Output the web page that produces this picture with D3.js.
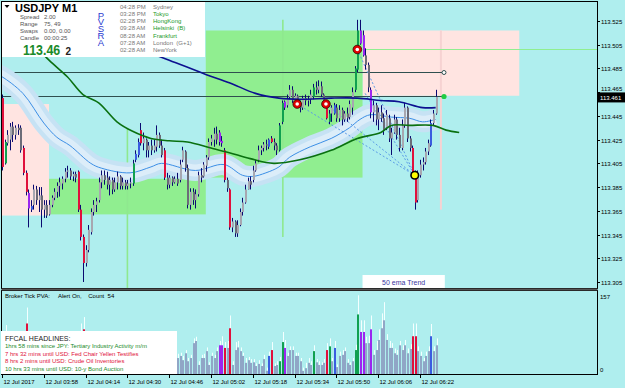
<!DOCTYPE html>
<html><head><meta charset="utf-8">
<script src="https://cdn.jsdelivr.net/npm/d3@7"></script>
<style>
body{margin:0;background:#afeeee;overflow:hidden}
svg{display:block;font-family:"Liberation Sans",Arial,sans-serif}
</style>
</head><body>
<svg id="chart" width="625" height="388"></svg>
<script>
// ---------------- DATA ----------------
const symbol = "USDJPY", timeframe = "M1";
// one M1 candle per minute starting 12 Jul 2017 03:42 ; [open, high, low, close]
const ohlc = [
[113.460,113.463,113.399,113.402],[113.405,113.425,113.404,113.423],[113.422,113.433,113.420,113.429],[113.425,113.439,113.416,113.436],
[113.436,113.440,113.423,113.429],[113.429,113.437,113.425,113.435],[113.435,113.438,113.429,113.433],[113.435,113.437,113.414,113.416],
[113.418,113.420,113.395,113.397],[113.397,113.399,113.378,113.381],[113.380,113.383,113.351,113.367],[113.366,113.374,113.364,113.369],
[113.370,113.387,113.366,113.383],[113.383,113.386,113.370,113.374],[113.374,113.385,113.364,113.378],[113.378,113.385,113.351,113.366],
[113.366,113.374,113.359,113.370],[113.370,113.374,113.359,113.361],[113.362,113.374,113.361,113.370],[113.370,113.378,113.368,113.376],
[113.376,113.384,113.374,113.381],[113.381,113.389,113.376,113.386],[113.386,113.393,113.377,113.389],[113.388,113.394,113.383,113.392],
[113.392,113.401,113.389,113.398],[113.398,113.403,113.393,113.399],[113.399,113.401,113.391,113.394],[113.394,113.398,113.390,113.396],
[113.396,113.398,113.389,113.393],[113.398,113.399,113.364,113.366],[113.366,113.370,113.340,113.343],[113.343,113.345,113.305,113.321],
[113.321,113.336,113.318,113.332],[113.332,113.353,113.330,113.349],[113.347,113.367,113.345,113.364],[113.364,113.374,113.361,113.370],
[113.370,113.376,113.364,113.373],[113.374,113.393,113.372,113.389],[113.389,113.399,113.384,113.395],[113.395,113.399,113.387,113.391],
[113.393,113.398,113.383,113.387],[113.387,113.394,113.378,113.391],[113.391,113.393,113.379,113.383],[113.383,113.393,113.381,113.389],
[113.389,113.398,113.383,113.394],[113.394,113.395,113.383,113.386],[113.386,113.393,113.383,113.389],[113.389,113.391,113.383,113.386],
[113.386,113.391,113.383,113.388],[113.388,113.393,113.384,113.389],[113.388,113.408,113.386,113.405],[113.408,113.416,113.406,113.413],
[113.412,113.426,113.410,113.423],[113.433,113.439,113.420,113.422],[113.422,113.431,113.416,113.426],[113.425,113.426,113.410,113.416],
[113.416,113.423,113.410,113.420],[113.420,113.425,113.412,113.416],[113.416,113.425,113.414,113.420],[113.419,113.437,113.415,113.429],
[113.429,113.431,113.418,113.420],[113.420,113.425,113.410,113.412],[113.416,113.418,113.391,113.393],[113.393,113.397,113.383,113.387],
[113.387,113.395,113.384,113.393],[113.393,113.394,113.386,113.389],[113.389,113.394,113.388,113.392],[113.392,113.397,113.386,113.388],
[113.391,113.408,113.389,113.404],[113.408,113.419,113.406,113.416],[113.415,113.416,113.398,113.401],[113.401,113.404,113.367,113.370],
[113.370,113.384,113.366,113.381],[113.381,113.384,113.370,113.374],[113.374,113.383,113.367,113.379],[113.379,113.398,113.377,113.395],
[113.395,113.401,113.389,113.393],[113.394,113.406,113.393,113.404],[113.403,113.412,113.398,113.410],[113.410,113.426,113.408,113.423],
[113.423,113.429,113.420,113.426],[113.425,113.435,113.419,113.430],[113.430,113.436,113.421,113.425],[113.431,113.433,113.420,113.423],
[113.424,113.428,113.419,113.422],[113.416,113.418,113.389,113.391],[113.391,113.393,113.381,113.384],[113.383,113.384,113.349,113.351],
[113.351,113.359,113.347,113.356],[113.356,113.357,113.343,113.346],[113.346,113.357,113.343,113.353],[113.353,113.367,113.352,113.364],
[113.364,113.376,113.361,113.372],[113.372,113.387,113.371,113.383],[113.383,113.393,113.383,113.390],[113.390,113.394,113.383,113.387],
[113.391,113.403,113.389,113.399],[113.399,113.408,113.398,113.405],[113.408,113.420,113.406,113.416],[113.416,113.420,113.412,113.418],
[113.418,113.423,113.415,113.421],[113.421,113.425,113.416,113.420],[113.419,113.426,113.417,113.425],[113.426,113.428,113.422,113.423],
[113.423,113.426,113.416,113.420],[113.420,113.422,113.412,113.416],[113.416,113.439,113.415,113.437],[113.440,113.458,113.438,113.456],
[113.457,113.458,113.450,113.452],[113.454,113.463,113.452,113.460],[113.461,113.471,113.459,113.467],[113.467,113.470,113.456,113.458],
[113.458,113.464,113.455,113.462],[113.462,113.463,113.453,113.456],[113.456,113.458,113.448,113.452],[113.452,113.462,113.450,113.460],
[113.460,113.463,113.454,113.458],[113.458,113.462,113.453,113.459],[113.459,113.467,113.455,113.463],[113.461,113.472,113.459,113.469],
[113.469,113.474,113.463,113.467],[113.467,113.475,113.464,113.470],[113.470,113.474,113.461,113.463],[113.463,113.464,113.453,113.455],
[113.455,113.458,113.442,113.443],[113.440,113.450,113.438,113.447],[113.447,113.454,113.440,113.452],[113.447,113.456,113.446,113.454],
[113.452,113.455,113.440,113.443],[113.443,113.454,113.440,113.450],[113.450,113.452,113.437,113.442],[113.442,113.449,113.440,113.447],
[113.447,113.452,113.440,113.443],[113.444,113.458,113.442,113.455],[113.452,113.469,113.446,113.465],[113.467,113.487,113.465,113.485],
[113.484,113.526,113.482,113.517],[113.517,113.526,113.505,113.506],[113.513,113.517,113.495,113.496],[113.496,113.502,113.484,113.488],
[113.488,113.490,113.465,113.469],[113.467,113.469,113.443,113.448],[113.448,113.458,113.440,113.454],[113.454,113.456,113.437,113.442],
[113.442,113.452,113.433,113.448],[113.448,113.454,113.440,113.443],[113.443,113.447,113.429,113.433],[113.435,113.450,113.433,113.446],
[113.443,113.446,113.423,113.426],[113.426,113.435,113.412,113.431],[113.431,113.446,113.430,113.442],[113.442,113.444,113.425,113.429],
[113.429,113.435,113.415,113.418],[113.418,113.442,113.416,113.437],[113.437,113.456,113.435,113.452],[113.452,113.453,113.423,113.426],
[113.426,113.428,113.415,113.418],[113.418,113.420,113.395,113.397],[113.397,113.399,113.366,113.372],[113.374,113.399,113.372,113.395],
[113.395,113.408,113.393,113.404],[113.404,113.410,113.399,113.406],[113.406,113.418,113.404,113.415],[113.415,113.425,113.412,113.422],
[113.420,113.442,113.419,113.439],[113.439,113.450,113.437,113.447],[113.447,113.467,113.446,113.461]
];
// PVSRA candle classes (by candle index)
const climaxBear = [0,8,9,29,30,31,53,62,85,87,103,124,157,158];
const climaxBull = [1,50,106,107,119,125,135,136];
const risingBull = [11,51,52,102,127,164];
const risingBear = [10,83,84,108,137,138,141];

const tickVolume = [60,80,40,35,30,45,30,40,60,95,55,45,35,30,40,50,35,30,25,30,25,35,30,25,30,25,20,25,30,70,
75,84,50,45,40,35,30,35,30,25,30,25,30,25,30,25,20,25,20,25,45,40,45,55,40,35,30,30,25,35,30,35,55,35,30,25,30,
30,34,26,39,24,30,58,62,17,30,30,43,17,34,30,43,54,54,49,49,86,17,45,50,43,34,21,26,21,22,15,19,15,28,6,34,45,15,17,24,
60,49,34,45,45,34,34,24,6,11,21,17,43,22,17,17,21,45,52,24,49,13,34,36,43,21,17,24,45,112,79,79,58,58,84,36,45,64,86,101,
64,49,49,39,36,54,45,54,39,47,71,71,43,34,24,34,43,71,43,54];
const tickPeak = [70,92,48,45,38,55,40,50,70,125,65,55,45,40,50,60,45,40,35,40,35,45,40,35,40,35,30,35,40,80,
95,107,60,55,50,45,40,45,40,35,40,35,40,35,40,35,30,35,30,35,55,50,55,65,50,45,40,40,35,45,40,45,65,45,40,35,40,
38,40,34,45,30,36,67,70,24,36,38,50,22,40,36,50,62,71,60,62,110,24,60,62,50,40,30,32,28,28,20,26,20,36,12,42,60,20,24,32,
79,64,40,52,52,40,40,30,12,21,30,24,54,28,24,22,28,58,67,30,62,18,42,45,50,28,22,30,55,148,101,101,70,72,110,45,62,84,114,135,
75,62,58,48,45,62,54,64,48,56,95,95,52,42,30,42,52,94,52,67];

// moving averages: [candle index, price]
const navyMA = [[53,113.501],[64,113.492],[78,113.480],[87,113.473],[97,113.464],[106,113.460],[114,113.459],[126,113.460],[136,113.460],[145,113.458],[152,113.457],[161,113.452],[166,113.452]];
const ema50 = [[8,113.515],[18,113.492],[25,113.478],[31,113.463],[37,113.456],[44,113.440],[50,113.432],[57,113.426],[64,113.424],[71,113.423],[80,113.418],[87,113.414],[95,113.409],[104,113.405],[114,113.408],[126,113.416],[136,113.426],[145,113.431],[149,113.437],[156,113.437],[165,113.437],[170,113.433],[175,113.431]];
const bandMid = [[-2,113.480],[0,113.478],[8,113.464],[16,113.439],[21,113.427],[26,113.420],[34,113.405],[38,113.401],[49,113.397],[57,113.402],[61,113.405],[74,113.399],[85,113.404],[92,113.395],[96,113.394],[101,113.397],[106,113.402],[110,113.410],[118,113.419],[126,113.426],[133,113.435],[137,113.442],[141,113.446],[149,113.444],[156,113.443],[161,113.440],[166,113.442]];

// supply / demand zones: [from idx, to idx, high, low]
const pinkZones = [[-2,18,113.455,113.361],[138,198,113.517,113.462]];
const greenZones = [[18,78,113.392,113.362],[78,138,113.517,113.393]];
const greenVLines = [[48,113.435,113.300],[107.5,113.526,113.343]];
const pinkVLine = [168,113.517,113.366];
const levelTP = 113.501;      // light green horizontal from idx 138
const levels = [113.482,113.462];
const pivotsHigh = [[113,113.455],[124,113.455],[136,113.501]];
const pivotLow = [158,113.395];
const rayStarts = [[113,113.455],[124,113.455],[136,113.501],[139,113.464]];

const priceTicks = [113.525,113.505,113.485,113.465,113.445,113.425,113.405,113.385,113.365,113.345,113.325,113.305];
const bidPrice = "113.461";
const bigPrice = "113.46", bigPriceDigit = "2";
const timeTickIdx = [0,16,32,48,64,80,96,112,128,144,160];
const timeLabels = ["12 Jul 2017","12 Jul 03:58","12 Jul 04:14","12 Jul 04:30","12 Jul 04:46","12 Jul 05:02","12 Jul 05:18","12 Jul 05:34","12 Jul 05:50","12 Jul 06:06","12 Jul 06:22"];
const volMax = 157;

const infoLabels = ["Spread","Range","Swaps","Candle"];
const infoValues = ["2.00","75, 49","0.00, 0.00","00:00:25"];
const sessions = [["04:28 PM","Sydney",0],["03:28 PM","Tokyo",1],["02:28 PM","HongKong",1],["09:28 AM","Helsinki  (B)",1],["08:28 AM","Frankfurt",1],["07:28 AM","London  (G+1)",0],["02:28 AM","NewYork",0]];
const headlines = [["1hrs 58 mins since JPY: Tertiary Industry Activity m/m","#1a8a2a"],["7 hrs 32 mins until USD: Fed Chair Yellen Testifies","#e0103a"],["8 hrs 2 mins until USD: Crude Oil Inventories","#e0103a"],["10 hrs 33 mins until USD: 10-y Bond Auction","#1a8a2a"]];

// ---------------- DRAW ----------------
const svg = d3.select("#chart");
const BG = "#afeeee";
const x = d3.scaleLinear().domain([0,100]).range([2, 263.25]);
const y = d3.scaleLinear().domain([113.305,113.525]).range([282,21]);
const yv = d3.scaleLinear().domain([0,volMax]).range([374,290.5]);

const COL = {cbear:"#e0103c", cbull:"#10a050", rbull:"#3a5de0", rbear:"#9b26f0", bull:"#a7a7b0", bear:"#6c6c78", wick:"#0a0a70"};
function cls(i){
  if (climaxBear.includes(i)) return COL.cbear;
  if (climaxBull.includes(i)) return COL.cbull;
  if (risingBull.includes(i)) return COL.rbull;
  if (risingBear.includes(i)) return COL.rbear;
  return null;
}

svg.append("rect").attr("width",625).attr("height",388).attr("fill",BG);
const defs = svg.append("defs");
defs.append("clipPath").attr("id","cm").append("rect").attr("x",2).attr("y",2).attr("width",595).attr("height",286);
defs.append("clipPath").attr("id","cv").append("rect").attr("x",2).attr("y",291).attr("width",595).attr("height",83);

const g = svg.append("g").attr("clip-path","url(#cm)");

// zones
g.selectAll(".pz").data(pinkZones).join("rect")
  .attr("x",d=>x(d[0])).attr("y",d=>y(d[2])).attr("width",d=>x(d[1])-x(d[0])).attr("height",d=>y(d[3])-y(d[2]))
  .attr("fill","#ffe4e1");
g.selectAll(".gz").data(greenZones).join("rect")
  .attr("x",d=>x(d[0])).attr("y",d=>y(d[2])).attr("width",d=>x(d[1])-x(d[0])).attr("height",d=>y(d[3])-y(d[2]))
  .attr("fill","#90ee90");

// vertical lines
g.selectAll(".gv").data(greenVLines).join("line")
  .attr("x1",d=>x(d[0])).attr("x2",d=>x(d[0])).attr("y1",d=>y(d[1])).attr("y2",d=>y(d[2]))
  .attr("stroke","#8fe88f").attr("stroke-width",1.6);
g.append("line").attr("x1",x(pinkVLine[0])).attr("x2",x(pinkVLine[0])).attr("y1",y(pinkVLine[1])).attr("y2",y(pinkVLine[2]))
  .attr("stroke","#f6d2d2").attr("stroke-width",2);

// horizontal levels
g.append("line").attr("x1",x(138)).attr("x2",597).attr("y1",Math.round(y(levelTP))+0.5).attr("y2",Math.round(y(levelTP))+0.5)
  .attr("stroke","#90ee90").attr("stroke-width",1);
levels.forEach(p=>{
  const yy = Math.round(y(p))+0.5;
  g.append("line").attr("x1",0).attr("x2",x(168.8)).attr("y1",yy).attr("y2",yy).attr("stroke","#2f4f4f").attr("stroke-width",1);
});

// envelope band
const lineG = d3.line().x(d=>x(d[0])).y(d=>y(d[1])).curve(d3.curveCatmullRom.alpha(0.5));
g.append("path").attr("d",lineG(bandMid)).attr("fill","none").attr("stroke","#c6e2f4").attr("stroke-width",21).attr("stroke-linejoin","round");
g.append("path").attr("d",lineG(bandMid)).attr("fill","none").attr("stroke","#dcedf9").attr("stroke-width",12).attr("stroke-linejoin","round");
g.append("path").attr("d",lineG(bandMid)).attr("fill","none").attr("stroke","#3c8fe6").attr("stroke-width",1);

// dotted rays
rayStarts.forEach(s=>{
  g.append("line").attr("x1",x(s[0])).attr("y1",y(s[1])).attr("x2",x(pivotLow[0])).attr("y2",y(pivotLow[1]))
   .attr("stroke","#5a9be6").attr("stroke-width",1).attr("stroke-dasharray","2,2");
});

// candles
const cg = g.append("g");
ohlc.forEach((d,i)=>{
  const cx = Math.round(x(i));
  const [o,h,l,c] = d;
  cg.append("line").attr("x1",cx+0.5).attr("x2",cx+0.5).attr("y1",y(h)).attr("y2",y(l)).attr("stroke",COL.wick).attr("stroke-width",1);
  const col = cls(i) || (c>=o ? COL.bull : COL.bear);
  const top = y(Math.max(o,c)), bot = y(Math.min(o,c));
  cg.append("rect").attr("x",cx).attr("y",top).attr("width",2).attr("height",Math.max(1,bot-top)).attr("fill",col);
});

// moving averages
g.append("path").attr("d",lineG(navyMA)).attr("fill","none").attr("stroke","#0c1090").attr("stroke-width",1.6);
g.append("path").attr("d",lineG(ema50)).attr("fill","none").attr("stroke","#0a7010").attr("stroke-width",1.6);

// markers
pivotsHigh.forEach(p=>{
  g.append("circle").attr("cx",x(p[0])).attr("cy",y(p[1])).attr("r",4.3).attr("fill","#e00000").attr("stroke","#300000").attr("stroke-width",0.8);
  g.append("circle").attr("cx",x(p[0])).attr("cy",y(p[1])).attr("r",1.8).attr("fill","#ffffff");
});
g.append("circle").attr("cx",x(pivotLow[0])).attr("cy",y(pivotLow[1])).attr("r",3.8).attr("fill","#ffff00").attr("stroke","#000").attr("stroke-width",1.6);
g.append("circle").attr("cx",x(168.8)+1).attr("cy",Math.round(y(levels[0]))+0.5).attr("r",2).attr("fill","#fff").attr("stroke","#2f4f4f").attr("stroke-width",1);
g.append("circle").attr("cx",x(168.8)+1).attr("cy",Math.round(y(levels[1]))+0.5).attr("r",2.6).attr("fill","#22cc44");

// 50 ema trend box
svg.append("rect").attr("x",x(138)).attr("y",275).attr("width",x(169.5)-x(138)).attr("height",13).attr("fill","#fff");
svg.append("text").attr("x",(x(138)+x(169.5))/2).attr("y",285).attr("text-anchor","middle").attr("font-size",7).attr("fill","#3a36a0").text("50 ema Trend");

// frames
svg.append("rect").attr("x",1.5).attr("y",1.5).attr("width",596).attr("height",287).attr("fill","none").attr("stroke","#000");
svg.append("rect").attr("x",1.5).attr("y",290.5).attr("width",596).attr("height",84).attr("fill","none").attr("stroke","#000");
svg.append("rect").attr("x",1.5).attr("y",288.5).attr("width",596).attr("height",2).attr("fill","#555");

// price axis
const by = y(+bidPrice);
priceTicks.forEach(p=>{
  const yy = Math.round(y(p))+0.5;
  svg.append("line").attr("x1",597).attr("x2",600).attr("y1",yy).attr("y2",yy).attr("stroke","#000");
  // keep the label clear of the bid-price tag
  let ty = yy+2.2;
  if (Math.abs(yy-by) < 7) ty = yy < by ? by-6.2 : by+10.5;
  svg.append("text").attr("x",601).attr("y",ty).attr("font-size",6).attr("fill","#000").text(p.toFixed(3));
});
svg.append("rect").attr("x",598).attr("y",by-4.5).attr("width",27).attr("height",10).attr("fill","#000");
svg.append("text").attr("x",600).attr("y",by+2.8).attr("font-size",6).attr("fill","#fff").text(bidPrice);

// ---- volume pane ----
const vg = svg.append("g").attr("clip-path","url(#cv)");
tickVolume.forEach((v,i)=>{
  const cx = Math.round(x(i));
  vg.append("line").attr("x1",cx+1.5).attr("x2",cx+1.5).attr("y1",yv(tickPeak[i])).attr("y2",374).attr("stroke","#f4ffff").attr("stroke-width",1);
  const col = cls(i) || "#90a6c6";
  vg.append("rect").attr("x",cx).attr("y",yv(v)).attr("width",2).attr("height",374-yv(v)).attr("fill",col);
});
svg.append("text").attr("x",5).attr("y",298).attr("font-size",6).attr("fill","#000").attr("xml:space","preserve").text("Broker Tick PVA:     Alert On,    Count  54");
svg.append("text").attr("x",600).attr("y",299).attr("font-size",6).text(String(volMax));
svg.append("text").attr("x",600).attr("y",372).attr("font-size",6).text("0");

// FFCAL box
svg.append("rect").attr("x",1).attr("y",331).attr("width",176).attr("height",43).attr("fill","#fff");
svg.append("text").attr("x",5).attr("y",341).attr("font-size",7).attr("fill","#222").text("FFCAL HEADLINES:");
headlines.forEach((h,k)=>{
  svg.append("text").attr("x",5).attr("y",348+k*7.5).attr("font-size",6).attr("fill",h[1]).text(h[0]);
});

// time axis
timeTickIdx.forEach((t,k)=>{
  const tx = Math.round(x(t))+0.5;
  svg.append("line").attr("x1",tx).attr("x2",tx).attr("y1",374).attr("y2",378).attr("stroke","#000");
  svg.append("text").attr("x",tx+1).attr("y",384).attr("font-size",6).attr("fill","#000").text(timeLabels[k]);
});

// ---- info box ----
const ib = svg.append("g");
ib.append("rect").attr("x",2).attr("y",2).attr("width",203).attr("height",55).attr("fill","#fff");
ib.append("path").attr("d","M4.5,5 L9.5,5 L7,8 Z").attr("fill","#000");
ib.append("text").attr("x",15).attr("y",12).attr("font-size",11).attr("font-weight","bold").text(symbol);
ib.append("text").attr("x",62).attr("y",12).attr("font-size",11).attr("font-weight","bold").text(timeframe);
infoLabels.forEach((l,k)=>{
  ib.append("text").attr("x",20).attr("y",18.5+k*7.2).attr("font-size",6).attr("fill","#555").text(l);
  ib.append("text").attr("x",44).attr("y",18.5+k*7.2).attr("font-size",6).attr("fill","#555").text(infoValues[k]);
});
ib.append("text").attr("transform","translate(23,55.3) scale(1,1.12)")
  .attr("font-size",12.4).attr("font-weight","bold").attr("fill","#1a8a2a").text(bigPrice);
ib.append("text").attr("x",65.5).attr("y",55).attr("font-size",10).attr("font-weight","bold").attr("fill","#222").text(bigPriceDigit);
// vertical "PVSRA" as one upright text
ib.append("text").attr("x",101).attr("y",9.5)
  .attr("writing-mode","vertical-lr").style("text-orientation","upright")
  .attr("font-size",9.5).attr("fill","#2a3ad0")
  .attr("textLength",38).attr("lengthAdjust","spacing").text("PVSRA");
sessions.forEach((s,k)=>{
  ib.append("text").attr("x",120).attr("y",8.5+k*7.3).attr("font-size",6).attr("fill","#777").text(s[0]);
  ib.append("text").attr("x",153).attr("y",8.5+k*7.3).attr("font-size",6).attr("fill",s[2]?"#1a9a2a":"#777").attr("xml:space","preserve").text(s[1]);
});
</script>
</body></html>
